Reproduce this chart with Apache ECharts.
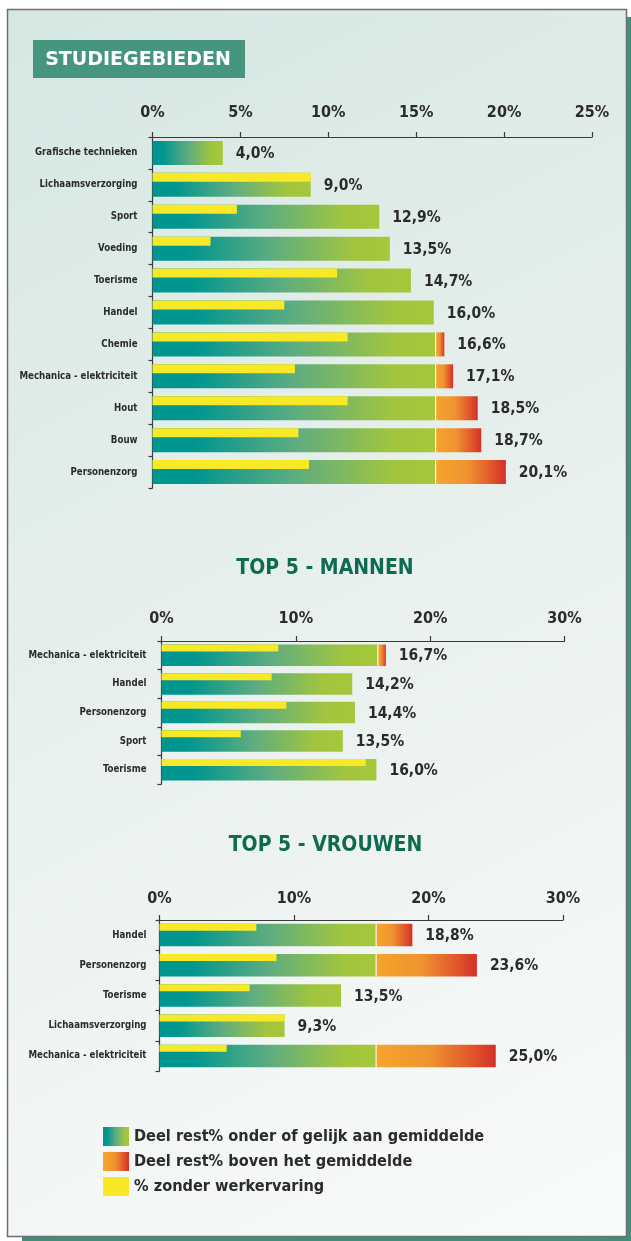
<!DOCTYPE html>
<html><head><meta charset="utf-8">
<script src="https://cdn.jsdelivr.net/npm/echarts@6/dist/echarts.min.js"></script>
<style>html,body{margin:0;padding:0;background:#fff}#c{width:631px;height:1241px}</style>
</head><body><div id="c"></div>
<script>
// ---- data ----
const AVG = 16.1; // average rest% (boundary between green and orange parts)

const catsAll = ['Grafische technieken','Lichaamsverzorging','Sport','Voeding','Toerisme','Handel','Chemie','Mechanica - elektriciteit','Hout','Bouw','Personenzorg'];
const totalAll = [4.0, 9.0, 12.9, 13.5, 14.7, 16.0, 16.6, 17.1, 18.5, 18.7, 20.1];
const noExpAll = [0, 9.0, 4.8, 3.3, 10.5, 7.5, 11.1, 8.1, 11.1, 8.3, 8.9];
const ticksAll = [0, 5, 10, 15, 20, 25];

const catsMen = ['Mechanica - elektriciteit','Handel','Personenzorg','Sport','Toerisme'];
const totalMen = [16.7, 14.2, 14.4, 13.5, 16.0];
const noExpMen = [8.7, 8.2, 9.3, 5.9, 15.2];

const catsWomen = ['Handel','Personenzorg','Toerisme','Lichaamsverzorging','Mechanica - elektriciteit'];
const totalWomen = [18.8, 23.6, 13.5, 9.3, 25.0];
const noExpWomen = [7.2, 8.7, 6.7, 9.3, 5.0];
const ticksTop = [0, 10, 20, 30];

const N_LOW = 'Deel rest% onder of gelijk aan gemiddelde';
const N_HIGH = 'Deel rest% boven het gemiddelde';
const N_Y = '% zonder werkervaring';

// ---- styles ----
const FONT = '"DejaVu Sans Condensed", "DejaVu Sans", sans-serif';
const NARROW = '"Liberation Sans Narrow", "DejaVu Sans Condensed", sans-serif';
const TXT = '#2b2b2b';
const AXC = '#3a3a3a';
const YELLOW = '#f8e826';
const G = echarts.graphic;
const gradGreen = new G.LinearGradient(0,0,1,0,[
  {offset:0,color:'#00958f'},{offset:0.15,color:'#00968f'},
  {offset:0.5,color:'#5dac81'},{offset:0.85,color:'#a2c53e'},{offset:1,color:'#a5c73b'}]);
const gradOrange = new G.LinearGradient(0,0,1,0,[
  {offset:0,color:'#f5a52c'},{offset:0.45,color:'#ef9330'},
  {offset:0.8,color:'#e0562b'},{offset:1,color:'#d3302a'}]);

const panels = [
  {cats:catsAll, tot:totalAll, ne:noExpAll, ticks:ticksAll, grid:{left:152.5, right:39, top:137, height:351}, barW:24, yH:9, labM:16, catM:15},
  {cats:catsMen, tot:totalMen, ne:noExpMen, ticks:ticksTop, grid:{left:161.5, right:66.5, top:641, height:143}, barW:21.5, yH:7, labM:14, catM:15},
  {cats:catsWomen, tot:totalWomen, ne:noExpWomen, ticks:ticksTop, grid:{left:159.5, right:68, top:920, height:151}, barW:22.5, yH:7, labM:13, catM:13}
];

const grids = [], xAxes = [], yAxes = [], series = [];
panels.forEach((p, i) => {
  grids.push(Object.assign({containLabel:false}, p.grid));
  xAxes.push({
    gridIndex:i, type:'value', position:'top',
    min:p.ticks[0], max:p.ticks[p.ticks.length-1], interval:p.ticks[1]-p.ticks[0],
    axisLine:{show:true, lineStyle:{color:AXC, width:1.2}},
    axisTick:{show:true, length:5, lineStyle:{color:AXC, width:1.2}},
    axisLabel:{formatter:'{value}%', margin:p.labM, color:TXT, fontFamily:FONT, fontWeight:'bold', fontSize:16},
    splitLine:{show:false}
  });
  yAxes.push({
    gridIndex:i, type:'category', data:p.cats, inverse:true,
    axisLine:{show:true, lineStyle:{color:AXC, width:1.2}},
    axisTick:{show:true, length:4, lineStyle:{color:AXC, width:1.2}},
    axisLabel:{margin:p.catM, color:TXT, fontFamily:NARROW, fontWeight:'bold', fontSize:9.6}
  });
  series.push({
    type:'bar', name:N_LOW, xAxisIndex:i, yAxisIndex:i, stack:'s'+i, barWidth:p.barW, silent:true,
    itemStyle:{color:gradGreen}, data:p.tot.map(t => Math.min(t, AVG))
  });
  series.push({
    type:'bar', name:N_HIGH, xAxisIndex:i, yAxisIndex:i, stack:'s'+i, barWidth:p.barW, silent:true,
    itemStyle:{color:gradOrange}, data:p.tot.map(t => Math.max(0, +(t - AVG).toFixed(2)))
  });
  const bw = p.barW, yh = p.yH;
  series.push({
    type:'custom', name:N_Y, xAxisIndex:i, yAxisIndex:i, z:5, silent:true,
    itemStyle:{color:YELLOW},
    encode:{x:1, y:0},
    data:p.cats.map((c, k) => [k, p.ne[k], p.tot[k]]),
    renderItem:function(params, api){
      const k = api.value(0), v = api.value(1), t = api.value(2);
      const p0 = api.coord([0, k]);
      const pv = api.coord([v, k]);
      const pt = api.coord([t, k]);
      const pa = api.coord([AVG, k]);
      const top = p0[1] - bw/2;
      const ch = [];
      if (v > 0) ch.push({type:'rect', shape:{x:p0[0], y:top, width:pv[0]-p0[0], height:yh}, style:{fill:YELLOW}});
      if (t > AVG) ch.push({type:'rect', shape:{x:pa[0]-0.5, y:top, width:1.2, height:bw}, style:{fill:'rgba(255,255,255,0.85)'}});
      ch.push({type:'text', x:pt[0]+13, y:p0[1]+1, style:{
        text:t.toFixed(1).replace('.', ',') + '%', fill:TXT,
        font:'bold 15.5px ' + FONT, align:'left', verticalAlign:'middle', textAlign:'left', textVerticalAlign:'middle'}});
      return {type:'group', children:ch};
    }
  });
});

const option = {
  animation:false,
  backgroundColor:'#ffffff',
  grid:grids, xAxis:xAxes, yAxis:yAxes, series:series,
  legend:{
    orient:'vertical', left:103, top:1127, padding:0, itemWidth:26, itemHeight:19, itemGap:6,
    icon:'rect', selectedMode:false,
    data:[N_LOW, N_HIGH, N_Y],
    textStyle:{color:TXT, fontFamily:FONT, fontWeight:'bold', fontSize:16.2, lineHeight:19}
  },
  graphic:[
    {type:'rect', z:-20, silent:true, shape:{x:22, y:17, width:609, height:1224}, style:{fill:'#3f8f7b'}},
    {type:'rect', z:-19, silent:true, shape:{x:7.5, y:9.5, width:619, height:1227},
      style:{fill:new G.LinearGradient(0,0,1,1,[{offset:0,color:'#d6e7e2'},{offset:0.5,color:'#e9f0ee'},{offset:1,color:'#fafbfb'}]), stroke:'#6e6e6e', lineWidth:1.5}},
    {type:'rect', z:10, silent:true, shape:{x:33, y:40, width:212, height:38}, style:{fill:'#46967f'}},
    {type:'text', z:11, silent:true, x:138, y:60, style:{text:'STUDIEGEBIEDEN', fill:'#ffffff', font:'bold 19px "DejaVu Sans", sans-serif', align:'center', verticalAlign:'middle'}},
    {type:'text', z:11, silent:true, x:325, y:568.5, style:{text:'TOP 5 - MANNEN', fill:'#0d6b50', font:'bold 21px ' + FONT, align:'center', verticalAlign:'middle'}},
    {type:'text', z:11, silent:true, x:325.5, y:845.5, style:{text:'TOP 5 - VROUWEN', fill:'#0d6b50', font:'bold 21px ' + FONT, align:'center', verticalAlign:'middle'}}
  ]
};

const chart = echarts.init(document.getElementById('c'), null, {renderer:'canvas'});
chart.setOption(option);
</script>
</body></html>
